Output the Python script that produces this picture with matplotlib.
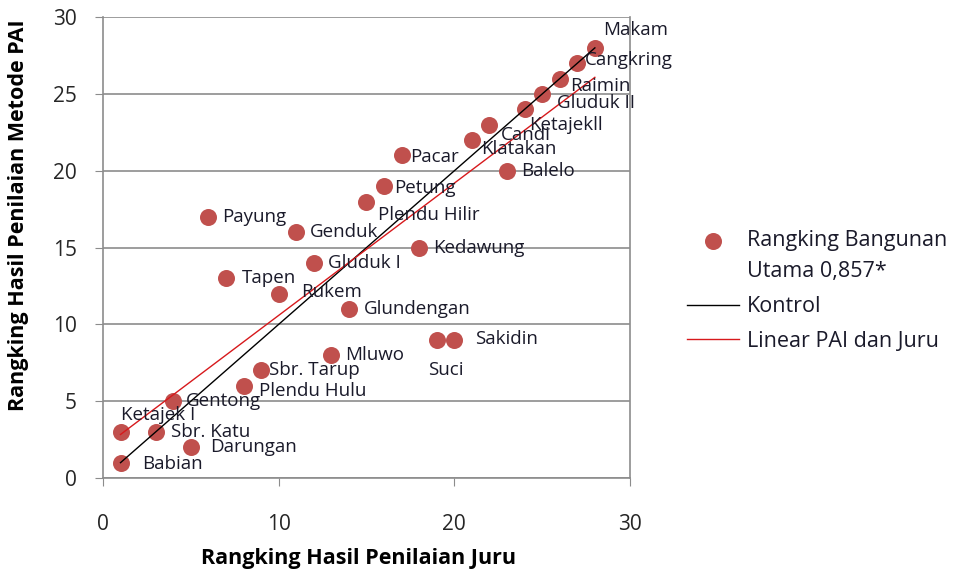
import numpy as np
import matplotlib.pyplot as plt
from matplotlib.transforms import ScaledTranslation

plt.rcParams['font.family'] = ['Open Sans', 'DejaVu Sans']

names = ['Makam', 'Cangkring', 'Raimin', 'Gluduk II', 'Ketajekll', 'Candi', 'Klatakan',
         'Balelo', 'Pacar', 'Petung', 'Plendu Hilir', 'Payung', 'Genduk', 'Kedawung',
         'Gluduk I', 'Tapen', 'Rukem', 'Glundengan', 'Mluwo', 'Suci', 'Sakidin',
         'Sbr. Tarup', 'Plendu Hulu', 'Gentong', 'Ketajek I', 'Sbr. Katu', 'Darungan', 'Babian']
juru = [28, 27, 26, 25, 24, 22, 21, 23, 17, 16, 15, 6, 11, 18, 12, 7, 10, 14, 13, 19, 20,
        9, 8, 4, 1, 3, 5, 1]
pai = [28, 27, 26, 25, 24, 23, 22, 20, 21, 19, 18, 17, 16, 15, 14, 13, 12, 11, 8, 9, 9,
       7, 6, 5, 3, 3, 2, 1]

# label offsets in pixels (dx, dy)
offsets = {'Makam': (8, 18), 'Cangkring': (8, 3), 'Raimin': (10, -7), 'Gluduk II': (15, -9),
           'Ketajekll': (5, -16), 'Candi': (11, -10), 'Klatakan': (9, -9), 'Balelo': (14, 0),
           'Pacar': (9, -2), 'Petung': (10, -2), 'Plendu Hilir': (12, -13), 'Payung': (14, 0),
           'Genduk': (14, 0), 'Kedawung': (14, 0), 'Gluduk I': (14, 0), 'Tapen': (16, 0),
           'Rukem': (22, 2), 'Glundengan': (15, 0), 'Mluwo': (14, 0), 'Suci': (-9, -30),
           'Sakidin': (21, 1), 'Sbr. Tarup': (8, 0), 'Plendu Hulu': (15, -5), 'Gentong': (13, 0),
           'Ketajek I': (0, 17), 'Sbr. Katu': (15, 0), 'Darungan': (19, 0), 'Babian': (22, -1)}

x = np.array(juru)
y = np.array(pai)

fig = plt.figure(figsize=(9.56, 5.72), dpi=100)
ax = fig.add_axes([0.1077, 0.1643, 0.5513, 0.8057])

ax.scatter(x, y, s=150, color='#C0504D', zorder=3, linewidths=0,
           label='Rangking Bangunan\nUtama 0,857*')
ax.plot([1, 28], [1, 28], color='black', lw=1, zorder=4, label='Kontrol')
m, c = np.polyfit(x, y, 1)
xl = np.array([x.min(), x.max()])
ax.plot(xl, m * xl + c, color='#D7191C', lw=1, zorder=4, label='Linear PAI dan Juru')

for n, xi, yi in zip(names, juru, pai):
    dx, dy = offsets[n]
    ax.annotate(n, (xi, yi), xytext=(dx, dy), textcoords='offset pixels',
                fontsize=13.5, va='center', ha='left', color='#1a1a2a', zorder=5)

ax.set_xlim(0, 30)
ax.set_ylim(0, 30)
ax.set_xticks([0, 10, 20, 30])
ax.set_yticks(range(0, 31, 5))
ax.yaxis.grid(True, color='#8c8c8c', lw=1.2)
ax.set_axisbelow(True)
for s in ['left', 'bottom', 'right', 'top']:
    ax.spines[s].set_color('#8c8c8c')
    ax.spines[s].set_linewidth(1.2)
ax.spines['top'].set_visible(False)
ax.tick_params(direction='out', length=6, color='#8c8c8c', labelsize=15, labelcolor='#262626')
ax.tick_params(axis='x', pad=20)
ax.tick_params(axis='y', pad=13)

ax.set_xlabel('Rangking Hasil Penilaian Juru', fontsize=15.5, fontweight='bold')
ax.set_ylabel('Rangking Hasil Penilaian Metode PAI', fontsize=15.5, fontweight='bold')
ax.xaxis.set_label_coords(0.485, -0.152)
ax.yaxis.set_label_coords(-0.14, 0.57)

leg = fig.legend(loc='upper left', bbox_to_anchor=(0.7186, 0.598), frameon=False, fontsize=15.5,
                 handlelength=2.4, handletextpad=0.37, labelspacing=0.64, borderpad=0,
                 borderaxespad=0)
leg.get_texts()[0].set_linespacing(1.65)
for t in leg.get_texts():
    t.set_color('#1a1a2a')
# excel puts the marker level with the first line of the label
h = leg.legend_handles[0]
h.set_offset_transform(h.get_offset_transform() + ScaledTranslation(0, 0.17, fig.dpi_scale_trans))

fig.savefig('out.png', dpi=100)
